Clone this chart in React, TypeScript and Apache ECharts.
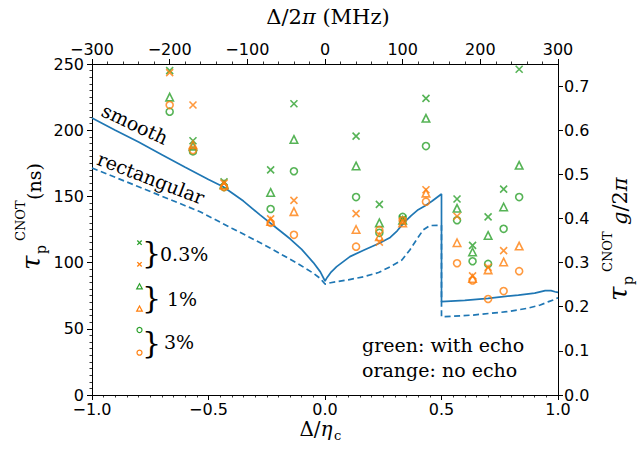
import React, { useEffect, useRef } from 'react';
import * as echarts from 'echarts';

// Detuning of each measured point, Δ/2π in MHz (η_c/2π = 300 MHz)
const detuningMHz = [-200, -170, -130, -70, -40, 40, 70, 100, 130, 170, 190, 210, 230, 250];
const etaMHz = 300;

// Measured CNOT gate times (ns). green = with echo, orange = no echo
const echo03 = [245, 192, 161, 170, 220, 195.5, 144, 133, 224, 148, 113, 134.5, 155.5, 246];
const echo1 = [225, 188, 159, 153, 193, 173, 130, 132, 209, 141, 108, 120.5, 142, 173.5];
const echo3 = [214, 184, 157, 140.5, 169, 149.5, 122.5, 134.5, 188, 132, 101, 99, 125.5, 149.5];
const noEcho03 = [243.5, 219, 160, 133, 147, 137, 115.5, 131, 155, 135, 90, 96.5, 109, null];
const noEcho1 = [null, 189, 158.5, 131, 138.5, 125, 119.5, 130, 152.5, 115, 88, 94.5, 100.5, 112.5];
const noEcho3 = [219, 185, 157, 130, 121, 112, 124.5, 132, 146, 99.5, 86.5, 72.5, 78.5, 93.5];

// Theory curves: x = Δ/η_c, y = τ (ns)
const smoothX = [-1, -0.9, -0.8, -0.7, -0.6, -0.5, -0.437, -0.35, -0.279, -0.2, -0.15, -0.1, -0.05, -0.02, 0, 0.01, 0.024, 0.05, 0.107, 0.168, 0.233, 0.28, 0.31, 0.338, 0.37, 0.4, 0.43, 0.46, 0.5, 0.5, 0.6, 0.7, 0.83, 0.9, 0.945, 0.97, 0.987, 1.0];
const smoothY = [209.2, 200, 191, 181.5, 172, 162.8, 157.3, 146.5, 136, 125, 118, 110, 100, 93, 86.1, 89, 92.4, 97, 104.5, 109.5, 114.6, 119, 124, 130, 135.5, 140, 143, 146.5, 151.8, 70.5, 71.5, 73, 75.5, 77, 78.8, 78.8, 78, 77.5];
const rectX = [-1, -0.8, -0.6, -0.536, -0.4, -0.3, -0.236, -0.2, -0.107, -0.05, -0.02, 0, 0.024, 0.1, 0.168, 0.23, 0.28, 0.33, 0.364, 0.39, 0.421, 0.45, 0.5, 0.5, 0.55, 0.636, 0.78, 0.87, 0.924, 0.96, 0.98, 1.0];
const rectY = [171.5, 157.3, 143, 138.4, 126, 117, 111, 107.5, 98.2, 92, 88, 83.8, 84.8, 87, 89.4, 92.5, 96.9, 102, 109.5, 116.5, 124.6, 128, 128.2, 59.1, 59.5, 60.4, 62.9, 65.5, 68, 70.5, 71.8, 73.5];

const BLUE = '#1f77b4';
const GREEN = '#2ca02c';
const ORANGE = '#ff7f0e';
const SERIF = "'DejaVu Serif', 'Liberation Serif', serif";
const SANS = "'DejaVu Sans', sans-serif";

const minus = (s: string) => s.replace('-', '\u2212');

const toPairs = (ys: (number | null)[]) =>
  detuningMHz
    .map((m, i) => (ys[i] == null ? null : [m / etaMHz, ys[i] as number]))
    .filter((p) => p !== null) as number[][];

const curve = (xs: number[], ys: number[]) => xs.map((x, i) => [x, ys[i]]);

const CROSS = 'path://M0,0L10,10M10,0L0,10';

function scatter(name: string, ys: (number | null)[], symbol: string, color: string, size: number) {
  return {
    name,
    type: 'scatter',
    xAxisIndex: 0,
    yAxisIndex: 0,
    symbol,
    symbolSize: size,
    data: toPairs(ys),
    itemStyle: { color: 'rgba(0,0,0,0)', borderColor: color, borderWidth: 1.6 },
    emphasis: { disabled: true },
    z: 5,
  };
}

function legendCross(cx: number, cy: number, color: string) {
  const h = 2.2;
  return [
    { type: 'line', shape: { x1: cx - h, y1: cy - h, x2: cx + h, y2: cy + h }, style: { stroke: color, lineWidth: 1.3 } },
    { type: 'line', shape: { x1: cx + h, y1: cy - h, x2: cx - h, y2: cy + h }, style: { stroke: color, lineWidth: 1.3 } },
  ];
}
function legendTri(cx: number, cy: number, color: string) {
  return {
    type: 'polygon',
    shape: { points: [[cx, cy - 3], [cx - 2.8, cy + 2.2], [cx + 2.8, cy + 2.2]] },
    style: { fill: 'none', stroke: color, lineWidth: 1.2 },
  };
}
function legendCirc(cx: number, cy: number, color: string) {
  return { type: 'circle', shape: { cx, cy, r: 2.5 }, style: { fill: 'none', stroke: color, lineWidth: 1.2 } };
}

function txt(text: string, x: number, y: number, fontSize: number, extra: any = {}) {
  const fam = extra.fontFamily || SERIF;
  const fst = extra.fontStyle || 'normal';
  return {
    type: 'text',
    x,
    y,
    rotation: extra.rotation || 0,
    style: {
      text,
      font: `${fst} normal ${fontSize}px ${fam}`,
      fontSize,
      fontFamily: fam,
      fontStyle: fst,
      fill: '#000',
      align: extra.align || 'left',
      textAlign: extra.align || 'left',
      verticalAlign: 'middle',
      textVerticalAlign: 'middle',
      rich: extra.rich,
    },
  };
}

// y for 'middle' alignment so that the alphabetic baseline sits at b
const mid = (b: number, fs: number) => b - 0.33 * fs;

export default function App() {
  const ref = useRef<HTMLDivElement>(null);
  useEffect(() => {
    if (!ref.current) return;
    const chart = echarts.init(ref.current, undefined, { renderer: 'svg' });

    const axisCommon = {
      type: 'value',
      splitLine: { show: false },
      axisLine: { show: true, onZero: false, lineStyle: { color: '#000', width: 1 } },
      axisTick: { show: true, length: 5, lineStyle: { color: '#000', width: 1 } },
      axisLabel: { color: '#000', fontSize: 16, fontFamily: SANS },
    };

    const richMath = {
      r: { fontSize: 21, fontFamily: SERIF },
      i: { fontSize: 21, fontFamily: SERIF, fontStyle: 'italic' },
    };
    const richEta = {
      r: { fontSize: 20, fontFamily: SERIF },
      i: { fontSize: 20, fontFamily: SERIF, fontStyle: 'italic' },
    };
    const richG = {
      r: { fontSize: 21, fontFamily: SERIF },
      i: { fontSize: 21, fontFamily: SERIF, fontStyle: 'italic' },
    };

    const option: any = {
      animation: false,
      grid: { left: 92, right: 83, top: 64, bottom: 54 },
      xAxis: [
        {
          ...axisCommon,
          position: 'bottom',
          min: -1,
          max: 1,
          interval: 0.5,
          minorTick: { show: true, splitNumber: 10, length: 2.5, lineStyle: { color: '#000', width: 0.8 } },
          axisLabel: { ...axisCommon.axisLabel, margin: 6, formatter: (v: number) => minus(v.toFixed(1)) },
        },
        {
          ...axisCommon,
          position: 'top',
          min: -300,
          max: 300,
          interval: 100,
          minorTick: { show: true, splitNumber: 5, length: 2.5, lineStyle: { color: '#000', width: 0.8 } },
          axisLabel: { ...axisCommon.axisLabel, margin: 7, formatter: (v: number) => minus(String(v)) },
        },
      ],
      yAxis: [
        {
          ...axisCommon,
          position: 'left',
          min: 0,
          max: 250,
          interval: 50,
          minorTick: { show: true, splitNumber: 10, length: 2.5, lineStyle: { color: '#000', width: 0.8 } },
          axisLabel: { ...axisCommon.axisLabel, margin: 8 },
        },
        {
          ...axisCommon,
          position: 'right',
          min: 0,
          max: 0.75,
          interval: 0.1,
          axisLabel: { ...axisCommon.axisLabel, margin: 6, showMaxLabel: false, formatter: (v: number) => v.toFixed(1) },
        },
      ],
      series: [
        {
          name: 'smooth',
          type: 'line',
          xAxisIndex: 0,
          yAxisIndex: 0,
          data: curve(smoothX, smoothY),
          showSymbol: false,
          lineStyle: { color: BLUE, width: 1.7 },
          z: 3,
        },
        {
          name: 'rectangular',
          type: 'line',
          xAxisIndex: 0,
          yAxisIndex: 0,
          data: curve(rectX, rectY),
          showSymbol: false,
          lineStyle: { color: BLUE, width: 1.7, type: [6, 3.5] },
          z: 3,
        },
        scatter('echo 0.3%', echo03, CROSS, GREEN, 7),
        scatter('echo 1%', echo1, 'triangle', GREEN, 7.5),
        scatter('echo 3%', echo3, 'circle', GREEN, 7),
        scatter('no echo 0.3%', noEcho03, CROSS, ORANGE, 7),
        scatter('no echo 1%', noEcho1, 'triangle', ORANGE, 7.5),
        scatter('no echo 3%', noEcho3, 'circle', ORANGE, 7),
      ],
      graphic: [
        // curve labels
        txt('smooth', 135, 124, 19, { align: 'center', rotation: (-25 * Math.PI) / 180 }),
        txt('rectangular', 151, 178, 19, { align: 'center', rotation: (-21 * Math.PI) / 180 }),
        // echo note
        txt('green: with echo', 362, 345, 19),
        txt('orange: no echo', 362, 370, 19),
        // marker legend
        ...legendCross(139.5, 242.7, GREEN),
        ...legendCross(139.5, 264.3, ORANGE),
        legendTri(139.5, 286.7, GREEN),
        legendTri(139.5, 309, ORANGE),
        legendCirc(139.5, 330, GREEN),
        legendCirc(139.5, 352.7, ORANGE),
        txt('}', 151.5, 252, 30, { align: 'center' }),
        txt('}', 151.5, 297, 30, { align: 'center' }),
        txt('}', 151.5, 342, 30, { align: 'center' }),
        txt('0.3%', 160, 254, 19),
        txt('1%', 167, 299, 19),
        txt('3%', 164, 342, 19),
        // top axis title
        txt('{r|Δ/2}{i|π}{r| (MHz)}', 328, 17, 21, { align: 'center', rich: richMath }),
        // bottom axis title
        txt('{r|Δ/}{i|η}', 316, 429, 20, { align: 'center', rich: richEta }),
        txt('c', 334, 435, 13),
        // left axis title
        {
          type: 'group',
          x: 40,
          y: 270,
          rotation: Math.PI / 2,
          children: [
            txt('τ', 0, mid(0, 26), 26, { fontStyle: 'italic' }),
            txt('p', 16, mid(6, 14), 14),
            txt('CNOT', 29, mid(-15, 13), 13),
            txt('(ns)', 70, mid(0, 19), 19),
          ],
        },
        // right axis title
        {
          type: 'group',
          x: 627,
          y: 301,
          rotation: Math.PI / 2,
          children: [
            txt('τ', 0, mid(0, 26), 26, { fontStyle: 'italic' }),
            txt('p', 16, mid(6, 14), 14),
            txt('CNOT', 29, mid(-15, 13), 13),
            txt('{i|g}{r|/2}{i|π}', 76, mid(0, 21), 21, { rich: richG }),
          ],
        },
      ],
    };

    chart.setOption(option);
    return () => chart.dispose();
  }, []);

  return <div ref={ref} style={{ width: 641, height: 449, position: 'absolute', left: 0, top: 0, background: '#fff' }} />;
}
